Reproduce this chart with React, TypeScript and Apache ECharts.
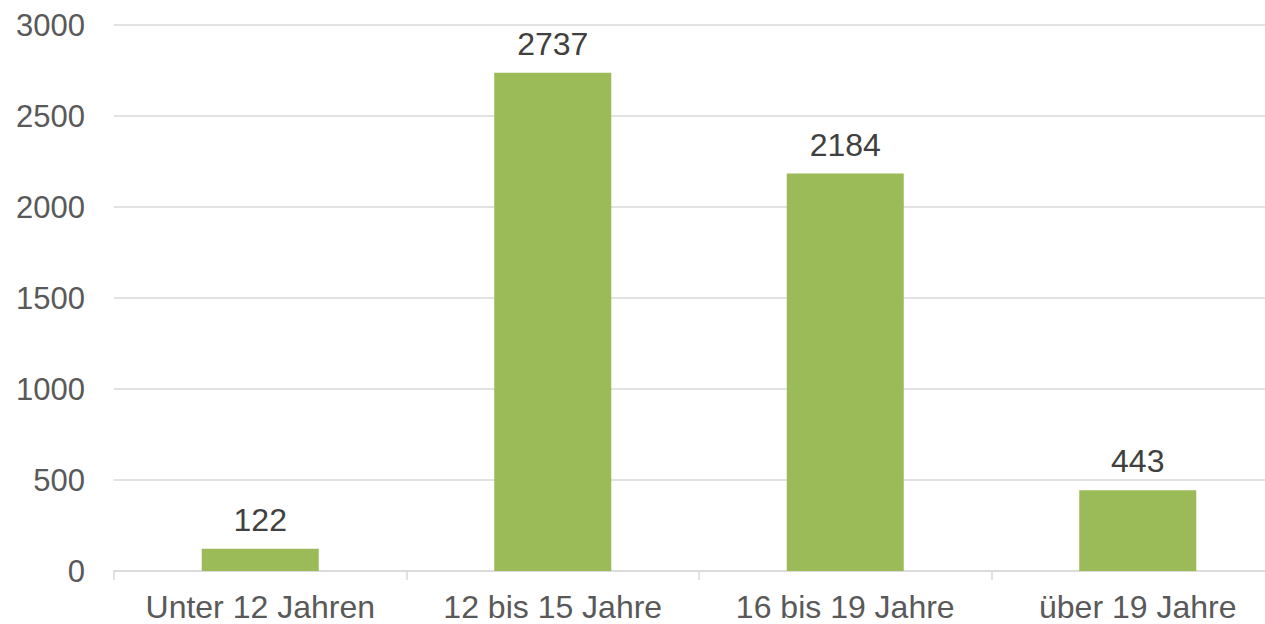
import React, { useEffect, useRef } from "react";
import * as echarts from "echarts";

const categories = ["Unter 12 Jahren", "12 bis 15 Jahre", "16 bis 19 Jahre", "über 19 Jahre"];
const values = [122, 2737, 2184, 443];
const yTicks = { min: 0, max: 3000, interval: 500 };

const FONT = "Liberation Sans, Arial, sans-serif";

export default function App() {
  const ref = useRef<HTMLDivElement>(null);
  useEffect(() => {
    if (!ref.current) return;
    const chart = echarts.init(ref.current, undefined, { renderer: "svg" });
    chart.setOption({
      animation: false,
      grid: { left: 114, top: 25, width: 1170, bottom: 53, containLabel: false },
      xAxis: {
        type: "category",
        data: categories,
        axisLine: { lineStyle: { color: "#d9d9d9", width: 1.5 } },
        axisTick: { show: true, interval: 0, length: 9, lineStyle: { color: "#d9d9d9", width: 1.5 } },
        axisLabel: {
          color: "#595959",
          fontSize: 32,
          fontFamily: FONT,
          margin: 20,
          interval: 0,
          hideOverlap: false,
        },
      },
      yAxis: {
        type: "value",
        min: yTicks.min,
        max: yTicks.max,
        interval: yTicks.interval,
        axisLine: { show: false },
        axisTick: { show: false },
        splitLine: { lineStyle: { color: "#d9d9d9", width: 1.5 } },
        axisLabel: {
          color: "#595959",
          fontSize: 31,
          fontFamily: FONT,
          margin: 29,
          formatter: (v: number) => String(v),
        },
      },
      series: [
        {
          type: "bar",
          data: values,
          barWidth: "40%",
          itemStyle: { color: "#9bbb59" },
          label: {
            show: true,
            position: "top",
            distance: 13,
            color: "#404040",
            fontSize: 32,
            fontFamily: FONT,
          },
        },
      ],
    });
    return () => chart.dispose();
  }, []);
  return (
    <div
      ref={ref}
      style={{ position: "fixed", left: 0, top: 0, width: 1290, height: 624, background: "#fff" }}
    />
  );
}
